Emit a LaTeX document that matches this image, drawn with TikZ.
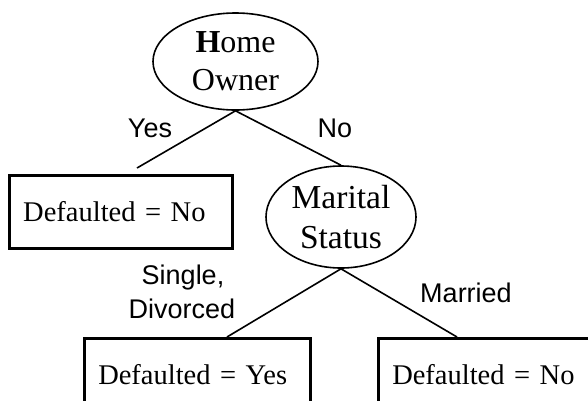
\documentclass[tikz,border=0pt]{standalone}
\usepackage{fontspec}
\setmainfont{Liberation Serif}
\newfontfamily\lblfont{Liberation Sans}
\usetikzlibrary{shapes.geometric}
\tikzset{
  boxnode/.style={draw, line width=2.5pt, anchor=north west, minimum height=73pt,
    inner xsep=14pt, inner ysep=0pt, align=left,
    font=\fontsize{28.5}{34}\selectfont},
  ellnode/.style={draw, ellipse, line width=1.6pt, inner sep=0pt, align=center},
  conn/.style={line width=1.6pt},
  lbl/.style={anchor=base, inner sep=0pt, font=\lblfont\fontsize{27}{32}\selectfont}
}
\begin{document}
\begin{tikzpicture}[x=1pt,y=-1pt]
\useasboundingbox (0,0) rectangle (588,400);
\clip (0,0) rectangle (588,400);
\node[ellnode, minimum width=165pt, minimum height=97pt,
      font=\fontsize{32}{38}\selectfont] (home) at (235.5,61.5) {{\bfseries H}ome\\Owner};
\node[ellnode, minimum width=150pt, minimum height=102pt,
      font=\fontsize{33.5}{40}\selectfont] (marital) at (341,217) {Marital\\Status};
\node[boxnode, minimum width=223pt, text width=195pt] (leaf1) at (8,174) {Defaulted = No};
\node[boxnode, minimum width=226pt, text width=198pt] (leaf2) at (83,337) {Defaulted = Yes};
\node[boxnode, minimum width=230pt, text width=202pt] (leaf3) at (377,337) {Defaulted = No};
\coordinate (e1) at (137,168);
\coordinate (e3) at (227,337);
\coordinate (e4) at (457,337);
\draw[conn] (home.south) -- (e1);
\draw[conn] (home.south) -- (marital.north);
\draw[conn] (marital.south) -- (e3);
\draw[conn] (marital.south) -- (e4);
\node[lbl] (lyes) at (150,137) {Yes};
\node[lbl] (lno) at (335,137) {No};
\node[lbl] (lsingle) at (183,284.5) {Single,};
\node[lbl] (ldiv) at (182,318) {Divorced};
\node[lbl] (lmar) at (466,302) {Married};
\end{tikzpicture}
\end{document}
